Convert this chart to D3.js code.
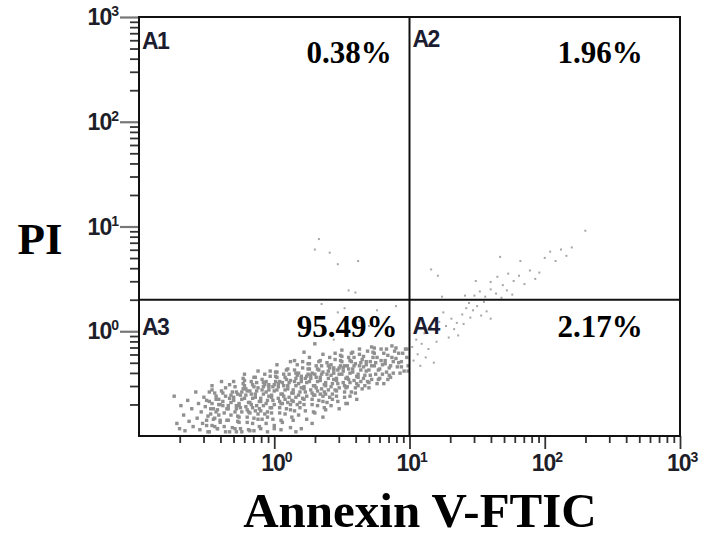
<!DOCTYPE html>
<html>
<head>
<meta charset="utf-8">
<script src="https://cdn.jsdelivr.net/npm/d3@7"></script>
<style>
  body { margin: 0; background: #fff; }
  svg { display: block; }
</style>
</head>
<body>
<div id="chart"></div>
<script>
// quadrant names and percentages
var quadrants = ["A1", "A2", "A3", "A4"];
var percents = ["0.38%", "1.96%", "95.49%", "2.17%"];

// gate position (Annexin V, PI)
var gateX = 10;
var gateY = 2;

// axis decades
var majorTicks = [1, 10, 100, 1000];
var exponents = ["0", "1", "2", "3"];

// events, [log10 Annexin V, log10 PI]
var cells = [
  // left tail
  [-0.74,-0.62],[-0.72,-0.88],[-0.70,-0.93],[-0.69,-0.71],[-0.67,-0.80],[-0.66,-0.95],[-0.64,-0.66],[-0.63,-0.86],[-0.61,-0.74],[-0.60,-0.91],
  [-0.58,-0.58],[-0.57,-0.83],[-0.56,-0.69],[-0.55,-0.94],[-0.54,-0.77],[-0.53,-0.88],[-0.52,-0.63],[-0.51,-0.72],[-0.50,-0.85],[-0.49,-0.96],
  [-0.48,-0.67],[-0.47,-0.79],[-0.46,-0.90],[-0.46,-0.56],[-0.45,-0.74],[-0.44,-0.83],[-0.43,-0.62],[-0.42,-0.93],[-0.41,-0.70],[-0.40,-0.87],
  // main population
  [-0.50,-0.66],[-0.49,-0.81],[-0.48,-0.58],[-0.50,-0.90],[-0.47,-0.74],[-0.48,-0.96],
  [-0.46,-0.69],[-0.45,-0.84],[-0.44,-0.59],[-0.43,-0.77],[-0.46,-0.52],[-0.44,-0.91],[-0.43,-0.65],
  [-0.42,-0.75],[-0.41,-0.65],[-0.40,-0.85],[-0.39,-0.57],[-0.42,-0.93],[-0.40,-0.70],[-0.41,-0.80],[-0.39,-0.48],
  [-0.38,-0.71],[-0.37,-0.78],[-0.36,-0.62],[-0.35,-0.85],[-0.38,-0.67],[-0.36,-0.54],[-0.37,-0.91],[-0.35,-0.74],[-0.38,-0.59],[-0.36,-0.96],
  [-0.34,-0.74],[-0.33,-0.64],[-0.32,-0.80],[-0.31,-0.58],[-0.34,-0.85],[-0.32,-0.68],[-0.33,-0.51],[-0.31,-0.92],[-0.34,-0.71],[-0.32,-0.61],[-0.33,-0.96],
  [-0.30,-0.66],[-0.29,-0.77],[-0.28,-0.58],[-0.27,-0.81],[-0.30,-0.63],[-0.28,-0.71],[-0.29,-0.53],[-0.27,-0.86],[-0.30,-0.48],[-0.28,-0.74],[-0.29,-0.93],[-0.27,-0.60],
  [-0.26,-0.69],[-0.25,-0.61],[-0.24,-0.77],[-0.23,-0.55],[-0.26,-0.82],[-0.24,-0.65],[-0.25,-0.73],[-0.23,-0.50],[-0.26,-0.87],[-0.24,-0.58],[-0.25,-0.93],[-0.23,-0.45],[-0.26,-0.71],[-0.24,-0.96],
  [-0.22,-0.64],[-0.21,-0.72],[-0.20,-0.57],[-0.19,-0.77],[-0.22,-0.52],[-0.20,-0.82],[-0.21,-0.61],[-0.19,-0.68],[-0.22,-0.47],[-0.20,-0.87],[-0.21,-0.55],[-0.19,-0.94],[-0.22,-0.41],[-0.20,-0.75],
  [-0.18,-0.68],[-0.17,-0.60],[-0.16,-0.73],[-0.15,-0.53],[-0.18,-0.78],[-0.16,-0.64],[-0.17,-0.48],[-0.15,-0.83],[-0.18,-0.57],[-0.16,-0.88],[-0.17,-0.70],[-0.15,-0.44],[-0.18,-0.95],[-0.16,-0.51],
  [-0.14,-0.63],[-0.13,-0.71],[-0.12,-0.54],[-0.11,-0.74],[-0.14,-0.60],[-0.12,-0.79],[-0.13,-0.49],[-0.11,-0.67],[-0.14,-0.44],[-0.12,-0.84],[-0.13,-0.57],[-0.11,-0.91],[-0.14,-0.76],[-0.12,-0.38],
  [-0.10,-0.64],[-0.09,-0.56],[-0.08,-0.71],[-0.07,-0.51],[-0.10,-0.76],[-0.08,-0.60],[-0.09,-0.46],[-0.07,-0.79],[-0.10,-0.67],[-0.08,-0.53],[-0.09,-0.84],[-0.07,-0.41],[-0.10,-0.93],[-0.08,-0.49],
  [-0.06,-0.58],[-0.05,-0.66],[-0.04,-0.53],[-0.03,-0.73],[-0.06,-0.48],[-0.04,-0.62],[-0.05,-0.77],[-0.03,-0.43],[-0.06,-0.69],[-0.04,-0.56],[-0.05,-0.82],[-0.03,-0.38],[-0.06,-0.88],[-0.04,-0.51],
  [-0.02,-0.61],[-0.01,-0.53],[0.00,-0.70],[0.01,-0.48],[-0.02,-0.73],[0.00,-0.57],[-0.01,-0.66],[0.01,-0.43],[-0.02,-0.78],[0.00,-0.51],[-0.01,-0.84],[0.01,-0.39],[-0.02,-0.63],[0.00,-0.93],
  [0.02,-0.56],[0.03,-0.64],[0.04,-0.48],[0.05,-0.69],[0.02,-0.44],[0.04,-0.73],[0.03,-0.53],[0.05,-0.60],[0.02,-0.39],[0.04,-0.78],[0.03,-0.50],[0.05,-0.85],[0.02,-0.32],[0.04,-0.67],
  [0.06,-0.60],[0.07,-0.52],[0.08,-0.65],[0.09,-0.46],[0.06,-0.69],[0.08,-0.56],[0.07,-0.41],[0.09,-0.74],[0.06,-0.49],[0.08,-0.79],[0.07,-0.62],[0.09,-0.37],[0.06,-0.87],[0.08,-0.44],
  [0.10,-0.55],[0.11,-0.63],[0.12,-0.47],[0.13,-0.66],[0.10,-0.52],[0.12,-0.70],[0.11,-0.41],[0.13,-0.59],[0.10,-0.36],[0.12,-0.75],[0.11,-0.49],[0.13,-0.82],[0.10,-0.68],[0.12,-0.29],
  [0.14,-0.56],[0.15,-0.48],[0.16,-0.63],[0.17,-0.42],[0.14,-0.67],[0.16,-0.52],[0.15,-0.37],[0.17,-0.70],[0.14,-0.59],[0.16,-0.45],[0.15,-0.76],[0.17,-0.32],[0.14,-0.85],[0.16,-0.40],
  [0.18,-0.50],[0.19,-0.58],[0.20,-0.45],[0.21,-0.64],[0.18,-0.40],[0.20,-0.54],[0.19,-0.68],[0.21,-0.35],[0.18,-0.61],[0.20,-0.48],[0.19,-0.73],[0.21,-0.29],[0.18,-0.80],[0.20,-0.43],
  [0.22,-0.53],[0.23,-0.45],[0.24,-0.62],[0.25,-0.41],[0.22,-0.65],[0.24,-0.49],[0.23,-0.58],[0.25,-0.36],[0.22,-0.70],[0.24,-0.43],[0.23,-0.76],[0.25,-0.31],[0.22,-0.55],[0.24,-0.84],
  [0.26,-0.48],[0.27,-0.56],[0.28,-0.40],[0.29,-0.61],[0.26,-0.36],[0.28,-0.65],[0.27,-0.45],[0.29,-0.52],[0.26,-0.31],[0.28,-0.70],[0.27,-0.42],[0.29,-0.77],[0.26,-0.25],[0.28,-0.59],
  [0.30,-0.52],[0.31,-0.44],[0.32,-0.57],[0.33,-0.37],[0.30,-0.61],[0.32,-0.48],[0.31,-0.33],[0.33,-0.66],[0.30,-0.41],[0.32,-0.71],[0.31,-0.54],[0.33,-0.29],[0.30,-0.78],[0.32,-0.36],
  [0.34,-0.47],[0.35,-0.55],[0.36,-0.39],[0.37,-0.58],[0.34,-0.44],[0.36,-0.62],[0.35,-0.33],[0.37,-0.51],[0.34,-0.28],[0.36,-0.67],[0.35,-0.41],[0.37,-0.73],[0.34,-0.60],[0.36,-0.22],
  [0.38,-0.49],[0.39,-0.41],[0.40,-0.56],[0.41,-0.35],[0.38,-0.60],[0.40,-0.45],[0.39,-0.30],[0.41,-0.63],[0.38,-0.52],[0.40,-0.38],[0.39,-0.68],[0.41,-0.25],[0.38,-0.75],[0.40,-0.33],
  [0.42,-0.42],[0.43,-0.50],[0.44,-0.37],[0.45,-0.56],[0.42,-0.32],[0.44,-0.46],[0.43,-0.60],[0.45,-0.27],[0.42,-0.53],[0.44,-0.40],[0.43,-0.65],[0.45,-0.21],[0.42,-0.71],[0.44,-0.35],
  [0.46,-0.45],[0.47,-0.37],[0.48,-0.54],[0.49,-0.33],[0.46,-0.57],[0.48,-0.41],[0.47,-0.50],[0.49,-0.28],[0.46,-0.62],[0.48,-0.35],[0.47,-0.67],[0.49,-0.23],[0.46,-0.47],[0.48,-0.74],
  [0.50,-0.41],[0.51,-0.49],[0.52,-0.33],[0.53,-0.54],[0.50,-0.29],[0.52,-0.58],[0.51,-0.38],[0.53,-0.45],[0.50,-0.24],[0.52,-0.63],[0.51,-0.35],[0.53,-0.69],[0.50,-0.18],[0.52,-0.52],
  [0.54,-0.44],[0.55,-0.36],[0.56,-0.49],[0.57,-0.29],[0.54,-0.53],[0.56,-0.40],[0.55,-0.25],[0.57,-0.58],[0.54,-0.33],[0.56,-0.62],[0.55,-0.46],[0.57,-0.21],[0.54,-0.69],[0.56,-0.28],
  [0.58,-0.39],[0.59,-0.47],[0.60,-0.31],[0.61,-0.50],[0.58,-0.36],[0.60,-0.54],[0.59,-0.25],[0.61,-0.43],[0.58,-0.20],[0.60,-0.59],[0.59,-0.33],[0.61,-0.65],
  [0.62,-0.41],[0.63,-0.33],[0.64,-0.48],[0.65,-0.27],[0.62,-0.52],[0.64,-0.37],[0.63,-0.22],[0.65,-0.55],[0.62,-0.44],[0.64,-0.30],[0.63,-0.17],
  [0.66,-0.34],[0.67,-0.42],[0.68,-0.29],[0.69,-0.48],[0.66,-0.24],[0.68,-0.38],[0.67,-0.52],[0.69,-0.19],[0.66,-0.45],[0.68,-0.32],
  [0.70,-0.37],[0.71,-0.29],[0.72,-0.46],[0.73,-0.25],[0.70,-0.49],[0.72,-0.33],[0.71,-0.42],[0.73,-0.20],[0.70,-0.54],[0.72,-0.15],
  [0.74,-0.33],[0.75,-0.41],[0.76,-0.25],[0.77,-0.46],[0.74,-0.21],[0.76,-0.50],[0.75,-0.30],[0.77,-0.37],[0.74,-0.16],
  [0.78,-0.36],[0.79,-0.28],[0.80,-0.41],[0.81,-0.21],[0.78,-0.45],[0.80,-0.32],[0.79,-0.17],[0.81,-0.50],
  [0.82,-0.31],[0.83,-0.39],[0.84,-0.23],[0.85,-0.42],[0.82,-0.28],[0.84,-0.46],[0.83,-0.17],[0.85,-0.35],
  [0.86,-0.33],[0.87,-0.25],[0.88,-0.40],[0.89,-0.19],[0.86,-0.44],[0.88,-0.29],[0.87,-0.14],
  [0.90,-0.26],[0.91,-0.34],[0.92,-0.21],[0.93,-0.40],[0.90,-0.16],[0.92,-0.30],
  [0.94,-0.29],[0.95,-0.21],[0.96,-0.38],[0.97,-0.17],[0.94,-0.34],
  [0.98,-0.25],[0.99,-0.33],[0.98,-0.17],[0.99,-0.38],
  // sparse fringe below and above the population
  [-0.15,-0.95],[-0.05,-0.96],[0.05,-0.94],[0.12,-0.92],[0.20,-0.93],[0.28,-0.88],[0.36,-0.82],[-0.28,-0.96],[0.00,-0.90],[0.16,-0.96],
  [0.22,-0.20],[0.30,-0.12],[0.38,0.00],[0.44,-0.08],[0.47,0.18],[0.52,0.22],[0.58,-0.02],[0.63,0.10],[0.70,0.05],[0.76,0.20],
  [0.83,0.12],[0.90,0.24],[0.15,-0.28],[0.35,0.26],
  // A4 tail
  [1.02,-0.15],[1.03,-0.28],[1.05,-0.08],[1.06,-0.22],[1.08,-0.33],[1.09,-0.12],[1.11,-0.02],[1.12,-0.25],[1.14,-0.17],[1.16,0.03],
  [1.18,-0.30],[1.20,-0.10],[1.27,0.05],[1.29,-0.06],[1.31,0.12],[1.33,0.02],[1.35,0.08],[1.36,-0.04],[1.39,0.16],[1.42,0.22],
  [1.45,0.13],[1.47,0.20],[1.50,0.24],[1.53,0.15],[1.57,0.19],[1.60,0.12],[1.44,0.27],[1.55,0.28],[1.25,0.18],[1.40,0.07],[1.22,0.09],
  // A2 tail
  [1.48,0.34],[1.52,0.38],[1.56,0.33],[1.60,0.40],[1.64,0.36],[1.68,0.32],[1.72,0.39],[1.76,0.35],[1.60,0.47],[1.65,0.52],
  [1.69,0.44],[1.73,0.55],[1.77,0.48],[1.81,0.53],[1.85,0.45],[1.89,0.58],[1.93,0.50],[1.96,0.56],[2.00,0.70],[2.04,0.76],
  [2.08,0.67],[2.12,0.78],[2.16,0.72],[2.20,0.80],[2.30,0.96],[1.16,0.59],[1.21,0.53],[1.24,0.33],[1.67,0.71],[1.82,0.67],
  [1.41,0.34],[1.49,0.48],
  // A1
  [0.41,0.75],[0.47,0.64],[0.62,0.67],[0.33,0.88],[0.55,0.39],[0.60,0.37],[0.30,0.78]
];

var width = 708, height = 537;
var svg = d3.select("#chart").append("svg")
    .attr("width", width)
    .attr("height", height);

var x = d3.scaleLog().domain([0.1, 1000]).range([139, 680]);
var y = d3.scaleLog().domain([0.1, 1000]).range([436, 17]);

// tick positions: 2..9 of the first decade, then 1..9 of each decade
var allTicks = [];
[0.1, 1, 10, 100].forEach(function(d) {
    for (var k = 1; k <= 9; k++) {
        if (d === 0.1 && k === 1) continue;
        allTicks.push(k * d);
    }
});
allTicks.push(1000);

function isMajor(v) {
    return majorTicks.some(function(m) { return Math.abs(m - v) < 1e-9; });
}

// dots: main population darker, sparse events paler and smaller
function sparse(d) { return d[0] > 1 || d[1] > -0.1; }
svg.append("g")
    .selectAll("rect")
    .data(cells)
    .enter().append("rect")
    .attr("x", function(d) { return x(Math.pow(10, d[0])) - (sparse(d) ? 1 : 1.7); })
    .attr("y", function(d) { return y(Math.pow(10, d[1])) - (sparse(d) ? 1 : 1.7); })
    .attr("width", function(d) { return sparse(d) ? 2 : 3.4; })
    .attr("height", function(d) { return sparse(d) ? 2 : 3.4; })
    .attr("fill", function(d) { return sparse(d) ? "#a6a6a6" : "#909090"; });

// x axis
var xAxis = svg.append("g")
    .attr("transform", "translate(0," + y(0.1) + ")")
    .call(d3.axisBottom(x).tickValues(allTicks).tickSize(7).tickFormat(""));
xAxis.select(".domain").remove();
xAxis.selectAll(".tick line")
    .attr("stroke", "#333")
    .attr("stroke-width", 1.8)
    .attr("y2", function(d) { return isMajor(d) ? 13 : 7; });

// y axis
var yAxis = svg.append("g")
    .attr("transform", "translate(" + x(0.1) + ",0)")
    .call(d3.axisLeft(y).tickValues(allTicks).tickSize(9).tickFormat(""));
yAxis.select(".domain").remove();
yAxis.selectAll(".tick line")
    .attr("stroke", function(d) { return isMajor(d) ? "#777" : "#333"; })
    .attr("stroke-width", function(d) { return isMajor(d) ? 2.2 : 1.8; })
    .attr("x2", function(d) { return isMajor(d) ? -19 : -9; });

// tick labels 10^n
var xLab = svg.append("g").selectAll("text")
    .data(majorTicks)
    .enter().append("text")
    .attr("x", function(d) { return x(d) - 13; })
    .attr("y", 471)
    .style("font-family", "'Liberation Sans', Arial, sans-serif")
    .style("font-weight", "bold")
    .style("font-size", "23px")
    .style("letter-spacing", "-1px")
    .attr("fill", "#1e1e28");
xLab.append("tspan").text("10");
xLab.append("tspan")
    .attr("dy", -9)
    .style("font-size", "14px")
    .text(function(d, i) { return exponents[i]; });

var yLab = svg.append("g").selectAll("text")
    .data(majorTicks)
    .enter().append("text")
    .attr("x", 118)
    .attr("y", function(d) { return y(d) + 8; })
    .attr("text-anchor", "end")
    .style("font-family", "'Liberation Sans', Arial, sans-serif")
    .style("font-weight", "bold")
    .style("font-size", "23px")
    .style("letter-spacing", "-1px")
    .attr("fill", "#1e1e28");
yLab.append("tspan").text("10");
yLab.append("tspan")
    .attr("dy", -9)
    .style("font-size", "14px")
    .text(function(d, i) { return exponents[i]; });

// frame and gate lines
svg.append("rect")
    .attr("x", x(0.1))
    .attr("y", y(1000))
    .attr("width", x(1000) - x(0.1))
    .attr("height", y(0.1) - y(1000))
    .attr("fill", "none")
    .attr("stroke", "#111")
    .attr("stroke-width", 2);

svg.append("line")
    .attr("x1", x(gateX)).attr("x2", x(gateX))
    .attr("y1", y(1000)).attr("y2", y(0.1))
    .attr("stroke", "#111").attr("stroke-width", 2);
svg.append("line")
    .attr("x1", x(0.1)).attr("x2", x(1000))
    .attr("y1", y(gateY)).attr("y2", y(gateY))
    .attr("stroke", "#111").attr("stroke-width", 2);

// quadrant names and percentages
var qPos = [
    { lx: x(0.1) + 3, ly: y(1000) + 32, px: 349, py: 63 },
    { lx: x(gateX) + 3, ly: y(1000) + 30, px: 600, py: 63 },
    { lx: x(0.1) + 3, ly: y(gateY) + 35, px: 347, py: 337 },
    { lx: x(gateX) + 3, ly: y(gateY) + 34, px: 600, py: 337 }
];
quadrants.forEach(function(q, i) {
    svg.append("text")
        .attr("x", qPos[i].lx)
        .attr("y", qPos[i].ly)
        .style("font-family", "'Liberation Sans', Arial, sans-serif")
        .style("font-weight", "bold")
        .style("font-size", "23px")
        .style("letter-spacing", "-1.5px")
        .attr("fill", "#1c1c30")
        .text(q);
    svg.append("text")
        .attr("x", qPos[i].px)
        .attr("y", qPos[i].py)
        .attr("text-anchor", "middle")
        .style("font-family", "'Liberation Serif', 'Times New Roman', serif")
        .style("font-weight", "bold")
        .style("font-size", "31px")
        .attr("fill", "#000")
        .text(percents[i]);
});

// axis titles
svg.append("text")
    .attr("x", 40)
    .attr("y", 254)
    .attr("text-anchor", "middle")
    .style("font-family", "'Liberation Serif', 'Times New Roman', serif")
    .style("font-weight", "bold")
    .style("font-size", "45px")
    .text("PI");

svg.append("text")
    .attr("x", 420)
    .attr("y", 527)
    .attr("text-anchor", "middle")
    .style("font-family", "'Liberation Serif', 'Times New Roman', serif")
    .style("font-weight", "bold")
    .style("font-size", "49px")
    .text("Annexin V-FTIC");
</script>
</body>
</html>
